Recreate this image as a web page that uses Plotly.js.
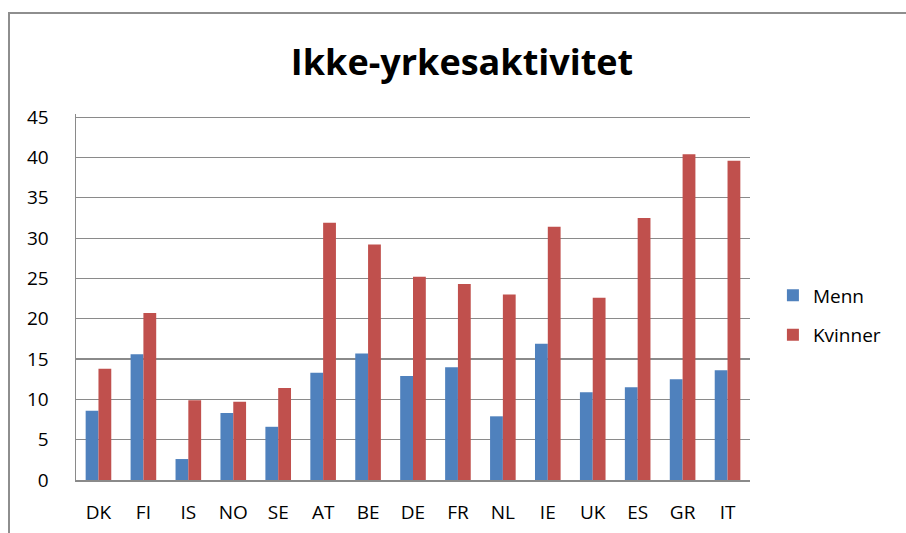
<!DOCTYPE html>
<html>
<head>
<meta charset="utf-8">
<script src="https://cdn.plot.ly/plotly-3.0.1.min.js"></script>
<style>
  body { margin: 0; background: #fff; }
  #wrap { position: relative; width: 906px; height: 533px; overflow: hidden; }
  #chart { position: absolute; left: 0; top: 0; width: 906px; height: 533px; }
  #frame { position: absolute; left: 8px; top: 12px; width: 910px; height: 540px;
           border: 2px solid #8e8e8e; pointer-events: none; }
</style>
</head>
<body>
<div id="wrap">
  <div id="chart"></div>
  <div id="frame"></div>
</div>
<script>
// land codes along the x axis
const countries = ['DK', 'FI', 'IS', 'NO', 'SE', 'AT', 'BE', 'DE', 'FR', 'NL', 'IE', 'UK', 'ES', 'GR', 'IT'];

// share not in work, per cent
const menn    = [8.6, 15.6, 2.6, 8.3, 6.6, 13.3, 15.7, 12.9, 14.0, 7.9, 16.9, 10.9, 11.5, 12.5, 13.6];
const kvinner = [13.8, 20.7, 9.9, 9.7, 11.4, 31.9, 29.2, 25.2, 24.3, 23.0, 31.4, 22.6, 32.5, 40.4, 39.6];

const yTicks = [0, 5, 10, 15, 20, 25, 30, 35, 40, 45];

const font = 'Open Sans, Liberation Sans, sans-serif';

var data = [
  {
    x: countries,
    y: menn,
    name: 'Menn',
    type: 'bar',
    legendgroup: 'm',
    marker: { color: '#4F81BD' },
    hoverinfo: 'skip'
  },
  {
    x: countries,
    y: kvinner,
    name: 'Kvinner',
    type: 'bar',
    legendgroup: 'k',
    marker: { color: '#C0504D' },
    hoverinfo: 'skip'
  }
];

var layout = {
  width: 906,
  height: 533,
  margin: { l: 76, r: 156, t: 114, b: 53 },
  paper_bgcolor: '#fff',
  plot_bgcolor: '#fff',
  font: { family: font, size: 19, color: '#000' },
  title: {
    text: '<b>Ikke-yrkesaktivitet</b>',
    font: { family: font, size: 36, color: '#000' },
    x: 0.51,
    xanchor: 'center',
    y: 0.882,
    yanchor: 'middle'
  },
  barmode: 'group',
  bargap: 0.43,
  bargroupgap: 0,
  xaxis: {
    showline: true,
    linecolor: '#8a8a8a',
    linewidth: 1.5,
    ticks: '',
    ticklabelstandoff: 15,
    tickfont: { family: font, size: 19 }
  },
  yaxis: {
    // a bit above 45 so the top grid line is not clipped away
    range: [0, 45.4],
    tickvals: yTicks,
    showgrid: true,
    gridcolor: '#8a8a8a',
    gridwidth: 1.2,
    zeroline: false,
    showline: true,
    linecolor: '#8a8a8a',
    linewidth: 1.5,
    ticks: '',
    ticklabelstandoff: 22,
    tickfont: { family: font, size: 19 }
  },
  showlegend: true,
  legend: {
    x: 1.034,
    xanchor: 'left',
    y: 0.45,
    yanchor: 'middle',
    tracegroupgap: 12,
    itemwidth: 30,
    font: { family: font, size: 19 }
  }
};

Plotly.newPlot('chart', data, layout, { staticPlot: true });
</script>
</body>
</html>
